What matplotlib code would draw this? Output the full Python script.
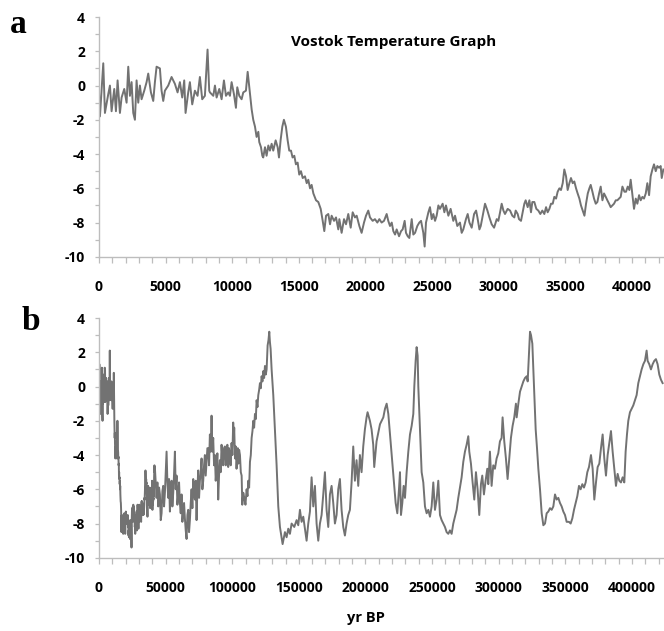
import numpy as np
import matplotlib.pyplot as plt
from matplotlib.ticker import MultipleLocator

# Vostok temperature anomaly, last ~42 kyr (panel a)
a_years = [0, 75, 325, 450, 700, 825, 950, 1150, 1275, 1400, 1575, 1700, 1900, 2075, 2200,
           2325, 2450, 2575, 2700, 2825, 2950, 3075, 3200, 3400, 3575, 3700, 3900, 4075, 4200,
           4325, 4575, 4700, 4825, 4950, 5200, 5450, 5700, 5900, 6075, 6250, 6400, 6500, 6700,
           6825, 7000, 7200, 7400, 7575, 7750, 7950, 8150, 8275, 8330,
           8580, 8705, 8830, 9030, 9205, 9380, 9530, 9705, 9830, 9955, 10130, 10280, 10380,
           10530, 10705, 10830, 11030, 11160, 11280, 11460, 11580, 11710, 11830, 11960, 12030,
           12160, 12260, 12330, 12460, 12580, 12710, 12830, 12960, 13080, 13260, 13410, 13510,
           13630, 13760, 13880, 14030, 14160, 14280, 14410, 14530, 14660, 14780, 14910, 15030,
           15160, 15290, 15460, 15590, 15710, 15840, 15960, 16090, 16290, 16460, 16640, 16790,
           16910, 17040, 17210, 17340, 17460, 17640, 17790, 17960,
           18040, 18210, 18390, 18540, 18710, 18890, 19040, 19210, 19340, 19540, 19710, 19890,
           20040, 20210, 20340, 20540, 20710, 20890, 21040, 21210, 21390, 21590, 21710, 21840,
           21970, 22090, 22220, 22340, 22520, 22670, 22790, 22940, 23040, 23170, 23290, 23470,
           23590, 23720, 23890, 24040, 24170, 24340, 24440, 24540, 24720, 24840, 24970, 25090,
           25220, 25340, 25470, 25590, 25790, 25920, 26040, 26220, 26390, 26590, 26720, 26890,
           27090, 27220, 27340, 27540, 27670, 27800, 27970, 28150, 28300, 28400, 28550, 28650,
           28800, 28970, 29150, 29300, 29470, 29650,
           29850, 29970, 30100, 30220, 30350, 30470, 30670, 30850, 31020, 31170, 31270, 31420,
           31520, 31670, 31770, 31920, 32020, 32170, 32300, 32420, 32520, 32670, 32820, 32970,
           33120, 33270, 33420, 33550, 33670, 33800, 33920, 34050, 34170, 34300, 34420, 34550,
           34670, 34800, 34920, 35050, 35170, 35300, 35420, 35550, 35670, 35800, 35920, 36050,
           36170, 36300, 36430, 36550, 36680, 36800, 36900, 37030, 37150, 37280, 37400, 37530,
           37650, 37780, 37900, 38030, 38150, 38280, 38400, 38530, 38650, 38780, 38900, 39030,
           39150, 39280, 39430, 39550, 39680, 39800, 39900, 40030, 40150, 40280, 40400, 40530,
           40650, 40780, 40900, 41030, 41150, 41280, 41400, 41530, 41650, 41780, 41900, 42030,
           42150, 42230, 42350]
a_temps = [-0.3, -1.8, 1.3, -1.6, -0.5, 0.0, -1.5, -0.2, -1.5, 0.3, -1.6, -0.7, -0.2, -1.0, 1.1,
           -0.6, 0.2, -1.6, -2.0, 0.3, -1.0, 0.0, -0.8, -0.3, 0.2, 0.7, -0.4, -0.9, 0.2,
           1.1, 1.0, -0.3, -0.9, -0.3, 0.0, 0.5, 0.1, -0.4, 0.2, -0.7, 0.3, -1.6, -0.4,
           0.2, -1.1, -0.3, -0.6, 0.5, -0.8, -0.6, 2.1, -0.3, -0.4,
           -0.6, 0.0, -0.7, -0.2, -0.8, 0.3, -0.6, -0.4, -0.6, 0.2, -0.5, -1.3, -0.1,
           -0.6, -0.8, -0.4, -0.3, 0.8, -0.1, -1.4, -2.0, -2.4, -3.0, -2.7, -3.3,
           -3.6, -4.1, -4.2, -3.6, -4.1, -3.5, -3.8, -3.4, -3.8, -3.2, -3.6, -4.2,
           -3.2, -2.4, -2.0, -2.4, -3.2, -3.8, -3.8, -4.2, -4.1, -4.6, -4.5, -5.2,
           -5.0, -5.4, -5.3, -5.7, -5.5, -6.0, -5.8, -6.3, -6.7, -6.8, -7.2, -7.9,
           -8.5, -7.6, -7.5, -8.1, -7.6, -7.9, -7.7, -8.4,
           -7.8, -8.6, -7.8, -8.1, -7.5, -8.3, -7.4, -7.7, -7.6, -8.2, -8.6, -8.0,
           -7.6, -7.3, -7.7, -7.9, -7.8, -8.0, -7.8, -8.0, -7.9, -7.5, -7.9, -8.2,
           -8.0, -8.5, -8.7, -8.4, -8.8, -8.5, -8.4, -7.9, -8.6, -8.8, -8.9, -7.8,
           -8.7, -8.6, -8.2, -8.0, -7.9, -8.6, -9.4, -8.0, -7.4, -7.1, -7.8, -7.5,
           -7.9, -7.6, -7.0, -7.2, -6.9, -7.4, -7.0, -7.6, -7.2, -7.9, -7.6, -8.2,
           -8.0, -8.6, -8.4, -7.8, -7.5, -8.0, -8.3, -7.5, -7.3, -7.7, -8.4, -8.2,
           -7.6, -6.9, -7.3, -7.7, -8.1, -8.3,
           -7.8, -7.9, -7.4, -6.9, -7.3, -7.5, -7.2, -7.3, -7.6, -7.7, -7.3, -7.5,
           -7.8, -7.9, -7.5, -6.9, -6.7, -7.1, -6.7, -7.4, -6.8, -6.8, -7.2, -7.3,
           -7.5, -7.3, -7.5, -7.1, -7.4, -7.2, -6.9, -6.9, -6.5, -6.6, -6.2, -6.0,
           -6.1, -5.7, -4.9, -5.3, -6.1, -5.7, -5.4, -5.7, -5.6, -6.0, -6.3, -6.6,
           -7.0, -7.3, -7.6, -6.9, -6.3, -6.0, -5.8, -6.2, -6.6, -6.9, -6.8, -6.3,
           -5.9, -6.7, -6.3, -6.5, -6.7, -6.9, -7.1, -7.0, -6.9, -6.7, -6.7, -6.6,
           -6.5, -5.9, -6.2, -6.2, -5.9, -6.1, -5.5, -6.4, -7.2, -6.6, -6.9, -6.4,
           -6.7, -6.5, -6.6, -6.3, -5.7, -6.4, -5.3, -4.9, -4.6, -5.0, -4.7, -4.8,
           -4.7, -5.4, -4.9]

# panel b continues the same record back to ~423 kyr
b_more_years = [43250, 43875, 44500, 45125, 45750, 46375, 47000, 47625, 48250, 48875, 49500,
                50125, 50750, 51375, 52000, 52625, 53250, 53875, 54500, 55125, 55750, 56375,
                57000, 57625, 58250, 58875, 59500, 60125, 60750, 61375, 62000, 62625, 63250,
                63875, 64500, 65125, 65750, 66375, 67000, 67625, 68250, 68875, 69500, 70125,
                70750, 71375, 72000, 72625, 73250, 73875, 74500, 75125, 75750, 76375, 77000,
                77625, 78250, 78875, 79500, 80125, 80750, 81375, 82000, 82625, 83250, 83875,
                84500, 85125, 85750, 86375, 87000, 87625, 88250, 88875, 89500, 90125, 90750,
                91375, 92000, 92625, 93250, 93875, 94500, 95125, 95750, 96375, 97000, 97625,
                98250, 98875, 99500, 100125, 100750, 101125, 101500, 102100, 102700, 103250,
                103800, 104200, 104570, 105200, 105820, 106450, 107070, 107570, 108300, 109070,
                109950, 110820, 111450, 112070, 112700, 113320, 113950, 114570, 115200, 115820,
                116450, 117070, 117700, 118320, 118950, 119570, 120200, 120820, 121450, 122070,
                122700, 123320, 123950, 124570, 125200, 125820, 126570, 127200, 127820, 128300,
                128820, 129570, 130820, 132070,
                133320, 134570, 135820, 137070, 137820, 139570, 140820, 142070, 143320, 144570,
                146570, 148320, 149570, 150820, 152070, 153320, 154570, 155820, 157070, 158320,
                159570, 160820, 162070, 163320, 164570, 165820, 167070, 168320, 169570, 170820,
                172070, 173320, 174570, 175820, 177070, 178320, 179570, 180820, 182070, 183320,
                184570, 185820, 187070, 188320, 189570, 190820, 192070, 193320, 194570, 195820,
                197070, 198320, 199570, 200820, 201570, 203320, 204570, 205820, 206570, 208320,
                209640, 210890, 212140, 213390, 214640, 215890, 217140, 217890, 219140, 220390,
                221640, 222640, 223890, 225140, 225890, 226640, 227640, 228640, 229640, 230890,
                232140, 233390, 234640, 235890, 236640, 237640, 238390, 239140, 239640, 240890,
                242140, 243390, 244640, 245890, 247140, 248390, 249640, 250890, 252140, 253390,
                254640, 255890, 257140, 258390, 259640, 260890, 262140, 263390, 264640, 265890,
                267140, 268390, 269640, 270890, 272140, 273390, 274640, 275890, 277140, 277890,
                279140, 280390, 281640, 282890, 284140, 285390, 286640, 287640, 288890, 290140,
                291390, 292140, 293390, 294640, 295890, 297140, 298390, 299640, 300890, 302140,
                302890, 304140, 305390, 306640, 307890, 309140, 310390, 311640, 312890, 313460,
                314710, 315960, 317210, 318460, 319710, 320960, 321710, 322710, 323460, 324210,
                325210, 325960, 326710, 327710, 328710, 329710, 330960, 332210, 333460, 334710,
                335960, 337210, 338460, 339710, 340960, 342210, 343460, 344710, 345960, 347210,
                348460, 349710, 350960, 352710, 353960, 355210, 356460, 357710, 358960, 360210,
                361460, 362710, 363960, 365210, 366460, 367710, 369210, 370460, 371710, 372960,
                374210, 375460, 376710, 377960, 379210, 380460, 381710, 382960, 384210, 385460,
                386710, 387960, 389210, 390460, 391710, 392960, 394210, 395210, 396210, 397210,
                398460, 399710, 400960, 402210, 403460, 404710, 405960, 407210, 408460, 409710,
                410960, 411710, 412960, 414210, 415460, 416710, 417960, 419210, 420460, 421710,
                422960]
b_more_temps = [-6.5, -5.6, -7.0, -5.9, -6.3, -7.8, -7.4, -6.1, -5.8, -7.0, -6.2,
                -5.0, -3.8, -5.6, -6.5, -5.4, -7.3, -6.2, -5.5, -7.0, -6.2, -5.1,
                -3.8, -6.0, -5.2, -6.9, -6.3, -5.6, -6.8, -7.4, -6.3, -7.9, -7.3,
                -6.8, -7.7, -8.4, -8.9, -7.5, -7.2, -8.5, -7.8, -6.8, -6.0, -7.1,
                -5.4, -6.2, -6.6, -5.5, -7.8, -6.0, -4.9, -6.5, -5.5, -5.0, -4.2,
                -6.0, -5.5, -4.6, -4.0, -5.2, -4.4, -3.6, -3.6, -4.6, -2.8, -3.8,
                -1.7, -3.8, -3.0, -4.6, -4.0, -5.5, -4.8, -3.9, -6.6, -5.2, -4.3,
                -5.0, -3.4, -4.2, -4.6, -3.6, -3.5, -4.6, -3.8, -3.4, -4.7, -3.6,
                -4.0, -4.6, -3.3, -4.0, -2.1, -3.2, -2.4, -4.2, -3.5, -4.8,
                -4.0, -3.6, -4.5, -3.7, -4.0, -5.0, -5.2, -6.9, -6.2, -6.5,
                -6.9, -6.0, -6.4, -5.5, -5.9, -4.4, -4.0, -3.0, -2.6, -2.0,
                -2.4, -1.6, -1.9, -0.8, -1.2, -0.5, -0.2, 0.2, -0.1, 0.6,
                0.3, 0.9, 0.5, 1.2, 0.7, 1.0, 2.4, 2.7, 3.2, 2.6,
                2.2, 1.0, -0.5, -2.5,
                -4.6, -7.0, -8.2, -8.8, -9.2, -8.5, -8.8, -8.3, -8.6, -8.0,
                -8.2, -7.8, -8.1, -7.2, -7.9, -7.6, -8.3, -9.0, -8.0, -7.3,
                -5.3, -7.0, -5.8, -8.0, -9.0, -8.0, -7.5, -6.3, -5.0, -7.2,
                -8.2, -6.3, -5.8, -6.8, -8.0, -7.5, -6.0, -5.4, -7.2, -8.2,
                -8.7, -8.0, -7.5, -7.2, -5.6, -3.5, -5.5, -4.3, -5.8, -4.0,
                -5.0, -3.5, -2.5, -1.8, -1.5, -2.0, -2.5, -3.4, -4.7, -3.2,
                -2.7, -2.2, -2.0, -1.8, -1.3, -1.0, -1.6, -2.3, -3.5, -4.6,
                -5.8, -6.8, -7.4, -6.0, -5.0, -7.5, -6.8, -5.8, -6.5, -5.0,
                -3.8, -2.8, -2.3, -1.6, 0.0, 1.5, 2.3, 1.8, 0.0, -2.5,
                -5.0, -5.6, -7.0, -7.4, -7.2, -7.6, -7.0, -5.6, -7.2, -6.6,
                -5.5, -7.5, -7.8, -8.0, -8.2, -8.5, -8.6, -8.4, -8.6, -8.0,
                -7.6, -7.2, -6.5, -5.9, -5.3, -4.4, -3.8, -3.4, -2.9, -3.8,
                -4.5, -5.6, -6.6, -5.0, -6.0, -7.5, -5.7, -5.2, -6.3, -5.5,
                -4.8, -5.7, -3.8, -5.8, -4.6, -4.8, -4.2, -3.9, -3.2, -3.0,
                -1.8, -3.2, -4.2, -5.4, -4.2, -3.0, -2.3, -1.8, -1.0, -1.8,
                -1.0, -0.3, 0.0, 0.3, 0.5, 0.6, 0.3, 2.0, 3.2, 3.0,
                2.5, 1.0, -0.6, -2.5, -3.6, -4.8, -6.0, -7.4, -8.1, -8.0,
                -7.4, -7.3, -7.1, -7.2, -7.0, -6.3, -6.6, -6.5, -6.8, -7.0,
                -7.3, -7.5, -7.9, -7.9, -8.0, -7.7, -7.2, -6.8, -6.4, -5.8,
                -6.0, -5.7, -5.9, -5.6, -5.0, -4.7, -4.0, -4.8, -6.6, -5.6,
                -4.7, -4.5, -3.6, -2.8, -4.2, -5.2, -4.0, -3.3, -2.6, -3.8,
                -4.8, -5.8, -5.1, -5.5, -5.6, -5.3, -5.6, -3.8, -2.8, -2.0,
                -1.5, -1.3, -1.1, -0.8, -0.5, 0.2, 0.6, 1.0, 1.3, 1.5,
                2.1, 1.5, 1.3, 1.0, 1.3, 1.5, 1.6, 1.3, 0.7, 0.4,
                0.2]

b_years = a_years[:-3] + b_more_years
b_temps = a_temps[:-3] + b_more_temps

line_col = '#727272'
spine_col = '#bdbdbd'
tick_font = {'family': 'Open Sans', 'weight': 'bold', 'size': 10}

fig = plt.figure(figsize=(6.64, 6.31), dpi=100)
ax1 = fig.add_axes([0.149, 0.593, 0.851, 0.380])
ax2 = fig.add_axes([0.149, 0.116, 0.851, 0.380])

ax1.plot(a_years, a_temps, color=line_col, lw=1.4)
ax2.plot(b_years, b_temps, color=line_col, lw=1.4)

for ax, xmax, xmaj, xmin in [(ax1, 42400, 5000, 1000), (ax2, 424000, 50000, 10000)]:
    ax.set_xlim(0, xmax)
    ax.set_ylim(-10, 4)
    ax.xaxis.set_major_locator(MultipleLocator(xmaj))
    ax.xaxis.set_minor_locator(MultipleLocator(xmin))
    ax.yaxis.set_major_locator(MultipleLocator(2))
    ax.yaxis.set_minor_locator(MultipleLocator(1))
    for s in ['top', 'right']:
        ax.spines[s].set_visible(False)
    for s in ['left', 'bottom']:
        ax.spines[s].set_color(spine_col)
        ax.spines[s].set_linewidth(1.0)
    ax.tick_params(axis='x', which='both', direction='out', color=spine_col,
                   length=4, width=0.9, pad=13)
    ax.tick_params(axis='y', which='both', direction='out', color=spine_col,
                   length=3, width=0.9, pad=7)
    ax.set_xticks(np.arange(0, xmax, xmaj))
    ax.set_xticklabels([str(int(v)) for v in np.arange(0, xmax, xmaj)], fontdict=tick_font)
    ax.set_yticks(np.arange(-10, 5, 2))
    ax.set_yticklabels([str(int(v)) for v in np.arange(-10, 5, 2)], fontdict=tick_font)

ax1.text(0.522, 0.895, 'Vostok Temperature Graph', transform=ax1.transAxes,
         ha='center', va='center', family='Open Sans', weight='bold', size=11)

fig.text(0.027, 0.948, 'a', family='Liberation Serif', weight='bold', size=24,
         ha='center', va='baseline')
fig.text(0.046, 0.477, 'b', family='Liberation Serif', weight='bold', size=24,
         ha='center', va='baseline')
fig.text(0.551, 0.015, 'yr BP', family='Open Sans', weight='bold', size=10.5,
         ha='center', va='baseline')

fig.savefig('out.png', dpi=100)
